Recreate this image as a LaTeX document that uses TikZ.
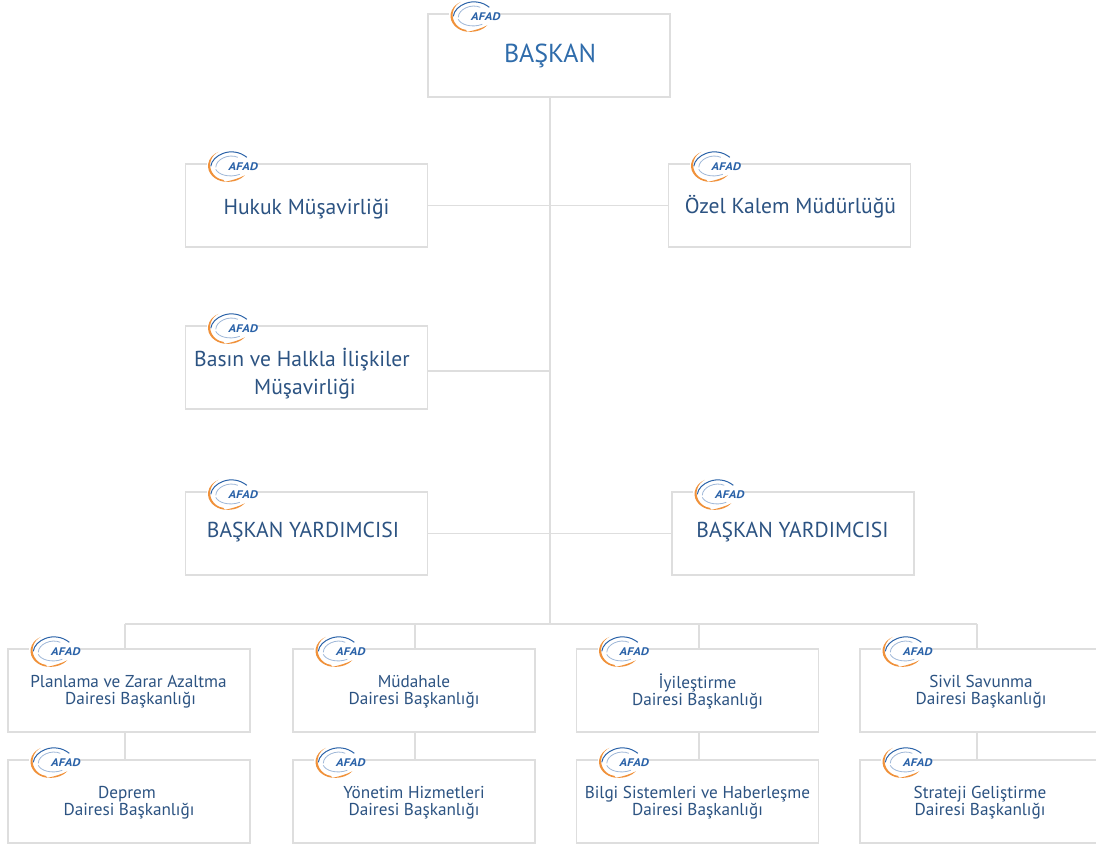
\documentclass[tikz,border=0pt]{standalone}
\usepackage{fontspec}
\setmainfont{PT Sans}
\definecolor{boxline}{HTML}{DEDEDE}
\definecolor{headblue}{HTML}{2F6CAB}
\definecolor{textblue}{HTML}{2C5382}
\definecolor{logoblue}{HTML}{2A62A8}
\definecolor{logoorange}{HTML}{F0913A}
\tikzset{
    orgbox/.style={draw=boxline,line width=1.4pt,fill=white,minimum width=242pt,minimum height=83pt,inner sep=0pt},
    link/.style={draw=boxline,line width=1.4pt},
    bigtext/.style={text=textblue,font=\fontsize{21.6}{28}\selectfont,align=center,inner sep=0pt},
    smalltext/.style={text=textblue,font=\fontsize{17.2}{17}\selectfont,align=center,inner sep=0pt},
    logo/.pic={
        \fill[white] (-20pt,-14pt) rectangle (29pt,14pt);
        \fill[logoorange] (-2pt,-15.5pt) arc[start angle=262,end angle=118,x radius=19.5pt,y radius=16pt]
            arc[start angle=118,end angle=262,x radius=15.5pt,y radius=15pt] -- cycle;
        \fill[logoorange] (-2pt,-15.5pt) .. controls (8pt,-16pt) and (14pt,-13pt) .. (18pt,-9pt)
            .. controls (12pt,-12pt) and (6pt,-14pt) .. (-2pt,-15.5pt);
        \draw[logoblue,line width=1pt] (-16pt,0pt) .. controls (-15pt,11pt) and (5pt,21pt) .. (20pt,9pt);
        \draw[logoblue!45,line width=.8pt] (-11pt,-1pt) .. controls (-11pt,7pt) and (2pt,13pt) .. (11pt,9pt);
        \draw[logoblue!45,line width=.8pt] (-11pt,-3pt) .. controls (-9pt,-8pt) and (2pt,-12pt) .. (13pt,-8pt);
        \node[text=logoblue,font=\fontsize{11}{12}\bfseries\itshape\selectfont,inner sep=0pt,anchor=west,xscale=1.17] (-logotext) at (1.5pt,0pt) {AFAD};
    }
}
\begin{document}
\begin{tikzpicture}[x=1pt,y=-1pt]
    \useasboundingbox (0,0) rectangle (1096,847);
    % main boxes
    \node[orgbox] (baskan) at (549,55.5) {};
    \node[orgbox] (hukuk) at (306.5,205.5) {};
    \node[orgbox] (ozel) at (789.5,205.5) {};
    \node[orgbox] (basin) at (306.5,367.5) {};
    \node[orgbox] (yrdsol) at (306.5,533.5) {};
    \node[orgbox] (yrdsag) at (793,533.5) {};
    % lower rows
    \node[orgbox] (planlama) at (129,690.5) {};
    \node[orgbox] (mudahale) at (414,690.5) {};
    \node[orgbox] (iyilestirme) at (697.5,690.5) {};
    \node[orgbox] (sivil) at (981,690.5) {};
    \node[orgbox] (deprem) at (129,801.5) {};
    \node[orgbox] (yonetim) at (414,801.5) {};
    \node[orgbox] (bilgi) at (697.5,801.5) {};
    \node[orgbox] (strateji) at (981,801.5) {};
    % connectors
    \coordinate (trunk) at (550,624);
    \coordinate (basinjoin) at (550,371);
    \coordinate (bus1) at (125,624);
    \coordinate (bus2) at (415,624);
    \coordinate (bus3) at (699,624);
    \coordinate (bus4) at (977,624);
    \draw[link] (trunk |- baskan.south) -- (trunk);
    \draw[link] (hukuk.east) -- (ozel.west);
    \draw[link] (basin.east |- basinjoin) -- (basinjoin);
    \draw[link] (yrdsol.east) -- (yrdsag.west);
    \draw[link] (bus1) -- (bus4);
    \draw[link] (bus1) -- (bus1 |- planlama.north);
    \draw[link] (bus2) -- (bus2 |- mudahale.north);
    \draw[link] (bus3) -- (bus3 |- iyilestirme.north);
    \draw[link] (bus4) -- (bus4 |- sivil.north);
    \draw[link] (bus1 |- planlama.south) -- (bus1 |- deprem.north);
    \draw[link] (bus2 |- mudahale.south) -- (bus2 |- yonetim.north);
    \draw[link] (bus3 |- iyilestirme.south) -- (bus3 |- bilgi.north);
    \draw[link] (bus4 |- sivil.south) -- (bus4 |- strateji.north);
    % logos
    \foreach \boxname in {baskan,hukuk,ozel,basin,yrdsol,yrdsag,planlama,mudahale,iyilestirme,sivil,deprem,yonetim,bilgi,strateji}
        \pic at ([shift={(42,3)}]\boxname.north west) {logo};
    % labels
    \node[bigtext,text=headblue,font=\fontsize{26}{28}\selectfont] (baskantext) at (550,56) {BAŞKAN};
    \node[bigtext] (hukuktext) at (306.5,209) {Hukuk Müşavirliği};
    \node[bigtext] (ozeltext) at (790.5,207) {Özel Kalem Müdürlüğü};
    \node[bigtext] (basintext) at (302,374) {Basın ve Halkla İlişkiler\\\hspace*{6pt}Müşavirliği};
    \node[bigtext] (yrdsoltext) at (303,532.5) {BAŞKAN YARDIMCISI};
    \node[bigtext] (yrdsagtext) at (792.5,532.5) {BAŞKAN YARDIMCISI};
    \node[smalltext] (planlamatext) at (128.5,691.5) {Planlama ve Zarar Azaltma\\\hspace*{4pt}Dairesi Başkanlığı};
    \node[smalltext] (mudahaletext) at (414,691.5) {Müdahale\\Dairesi Başkanlığı};
    \node[smalltext] (iyilestirmetext) at (697.5,691.5) {İyileştirme\\Dairesi Başkanlığı};
    \node[smalltext] (siviltext) at (981,691.5) {Sivil Savunma\\Dairesi Başkanlığı};
    \node[smalltext] (depremtext) at (129,802.5) {Deprem\hspace*{4pt}\\Dairesi Başkanlığı};
    \node[smalltext] (yonetimtext) at (414,802.5) {Yönetim Hizmetleri\\Dairesi Başkanlığı};
    \node[smalltext] (bilgitext) at (697.5,802.5) {Bilgi Sistemleri ve Haberleşme\\Dairesi Başkanlığı};
    \node[smalltext] (stratejitext) at (980,802.5) {Strateji Geliştirme\\Dairesi Başkanlığı};
\end{tikzpicture}
\end{document}
